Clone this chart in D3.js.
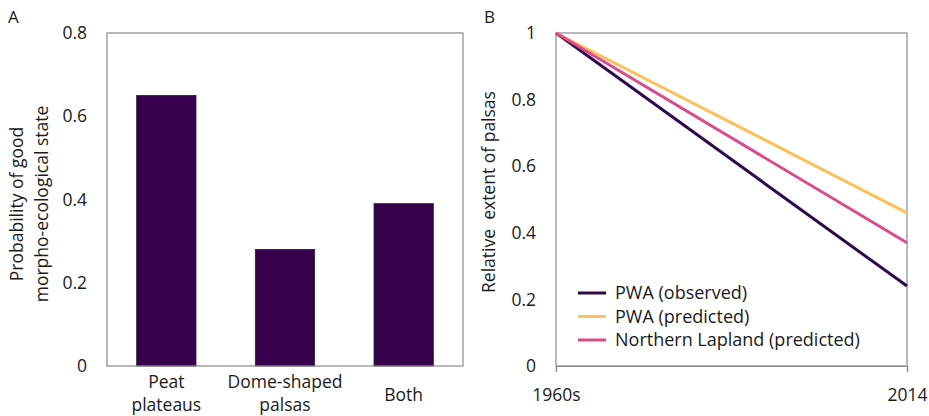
<!DOCTYPE html>
<html>
<head>
<meta charset="utf-8">
<script src="https://cdn.jsdelivr.net/npm/d3@7"></script>
<style>
  body { margin: 0; background: #fff; }
  svg { display: block; font-family: "Open Sans", "Noto Sans", sans-serif; }
</style>
</head>
<body>
<svg id="chart" width="929" height="416"></svg>
<script>
// Panel A: probability of good morpho-ecological state by palsa type
const categories = [["Peat", "plateaus"], ["Dome-shaped", "palsas"], ["Both"]];
const probability = [0.65, 0.28, 0.39];
const yTicksA = [0, 0.2, 0.4, 0.6, 0.8];

// Panel B: relative extent of palsas, 1960s to 2014
const periods = ["1960s", "2014"];
const seriesNames = ["PWA (observed)", "PWA (predicted)", "Northern Lapland (predicted)"];
const seriesValues = [
  [1, 0.24],
  [1, 0.46],
  [1, 0.37]
];
const seriesColors = ["#2e0a4c", "#fcc05c", "#d84c8a"];
const yTicksB = [0, 0.2, 0.4, 0.6, 0.8, 1];

const svg = d3.select("#chart");
const frameColor = "#8a8a8a";
const textColor = "#1a1a1a";
const tickFont = 17.5;

// ---------- Panel A ----------
const A = { left: 107, right: 463, top: 33, bottom: 366 };
const catKeys = categories.map(c => c.join(" "));
const xA = d3.scaleBand().domain(catKeys).range([A.left, A.right]).paddingInner(0.5).paddingOuter(0.25);
const yA = d3.scaleLinear().domain([0, 0.8]).range([A.bottom, A.top]);

const gA = svg.append("g");
gA.selectAll("rect.bar")
  .data(probability)
  .join("rect")
  .attr("class", "bar")
  .attr("x", (d, i) => xA(catKeys[i]))
  .attr("width", xA.bandwidth())
  .attr("y", d => yA(d))
  .attr("height", d => yA(0) - yA(d))
  .attr("fill", "#36004c")
  .attr("stroke", "#222")
  .attr("stroke-width", 0.8);

gA.append("rect")
  .attr("x", A.left).attr("y", A.top)
  .attr("width", A.right - A.left).attr("height", A.bottom - A.top)
  .attr("fill", "none").attr("stroke", frameColor).attr("stroke-width", 1.2);

const axisA = d3.axisLeft(yA).tickValues(yTicksA).tickSize(0).tickPadding(20)
  .tickFormat(d => d === 0 ? "0" : d3.format(".1f")(d));
gA.append("g").attr("transform", `translate(${A.left},0)`).call(axisA)
  .attr("font-family", null)
  .call(g => g.select(".domain").remove())
  .selectAll("text").attr("font-size", tickFont).attr("fill", textColor);

// category labels (one or two lines)
categories.forEach((lines, i) => {
  const cx = xA(catKeys[i]) + xA.bandwidth() / 2;
  const t = gA.append("text").attr("text-anchor", "middle")
    .attr("font-size", 17.5).attr("fill", textColor);
  if (lines.length === 1) {
    t.append("tspan").attr("x", cx).attr("y", 401).text(lines[0]);
  } else {
    t.append("tspan").attr("x", cx).attr("y", 388).text(lines[0]);
    t.append("tspan").attr("x", cx).attr("y", 411).text(lines[1]);
  }
});

const titleA = gA.append("text")
  .attr("transform", "translate(0,204) rotate(-90)")
  .attr("text-anchor", "middle").attr("font-size", 17.5).attr("fill", textColor);
titleA.append("tspan").attr("x", 0).attr("y", 23).text("Probability of good");
titleA.append("tspan").attr("x", 0).attr("y", 48).text("morpho-ecological state");

gA.append("text").attr("x", 8).attr("y", 23).attr("font-size", 17).attr("fill", textColor).text("A");

// ---------- Panel B ----------
const B = { left: 556, right: 907, top: 33, bottom: 366 };
const xB = d3.scalePoint().domain(periods).range([B.left, B.right]);
const yB = d3.scaleLinear().domain([0, 1]).range([B.bottom, B.top]);

const gB = svg.append("g");
gB.append("rect")
  .attr("x", B.left).attr("y", B.top)
  .attr("width", B.right - B.left).attr("height", B.bottom - B.top)
  .attr("fill", "none").attr("stroke", frameColor).attr("stroke-width", 1.2);

const axisBy = d3.axisLeft(yB).tickValues(yTicksB).tickSize(0).tickPadding(20)
  .tickFormat(d => (d === 0 || d === 1) ? String(d) : d3.format(".1f")(d));
gB.append("g").attr("transform", `translate(${B.left},0)`).call(axisBy)
  .attr("font-family", null)
  .call(g => g.select(".domain").remove())
  .selectAll("text").attr("font-size", tickFont).attr("fill", textColor);

const axisBx = d3.axisBottom(xB).tickSize(6).tickPadding(17);
gB.append("g").attr("transform", `translate(0,${B.bottom})`).call(axisBx)
  .attr("font-family", null)
  .call(g => g.select(".domain").attr("stroke", frameColor).attr("stroke-width", 1.2))
  .call(g => g.selectAll(".tick line").attr("stroke", frameColor).attr("stroke-width", 1.2))
  .selectAll("text").attr("font-size", tickFont).attr("fill", textColor);

const line = d3.line().x((d, i) => xB(periods[i])).y(d => yB(d));
gB.selectAll("path.series")
  .data(seriesValues)
  .join("path")
  .attr("class", "series")
  .attr("d", line)
  .attr("fill", "none")
  .attr("stroke", (d, i) => seriesColors[i])
  .attr("stroke-width", 3);

// legend
const legend = gB.append("g");
seriesNames.forEach((name, i) => {
  const y = 293 + i * 23.5;
  legend.append("line").attr("x1", 578).attr("x2", 606).attr("y1", y).attr("y2", y)
    .attr("stroke", seriesColors[i]).attr("stroke-width", 3);
  legend.append("text").attr("x", 615).attr("y", y).attr("dy", "0.35em")
    .attr("font-size", 18).attr("fill", textColor).text(name);
});

gB.append("text")
  .attr("transform", "translate(0,192) rotate(-90)")
  .attr("text-anchor", "middle").attr("font-size", 17.5).attr("fill", textColor)
  .attr("x", 0).attr("y", 495)
  .text("Relative\u00a0 extent of palsas");

gB.append("text").attr("x", 484).attr("y", 23).attr("font-size", 17).attr("fill", textColor).text("B");
</script>
</body>
</html>
